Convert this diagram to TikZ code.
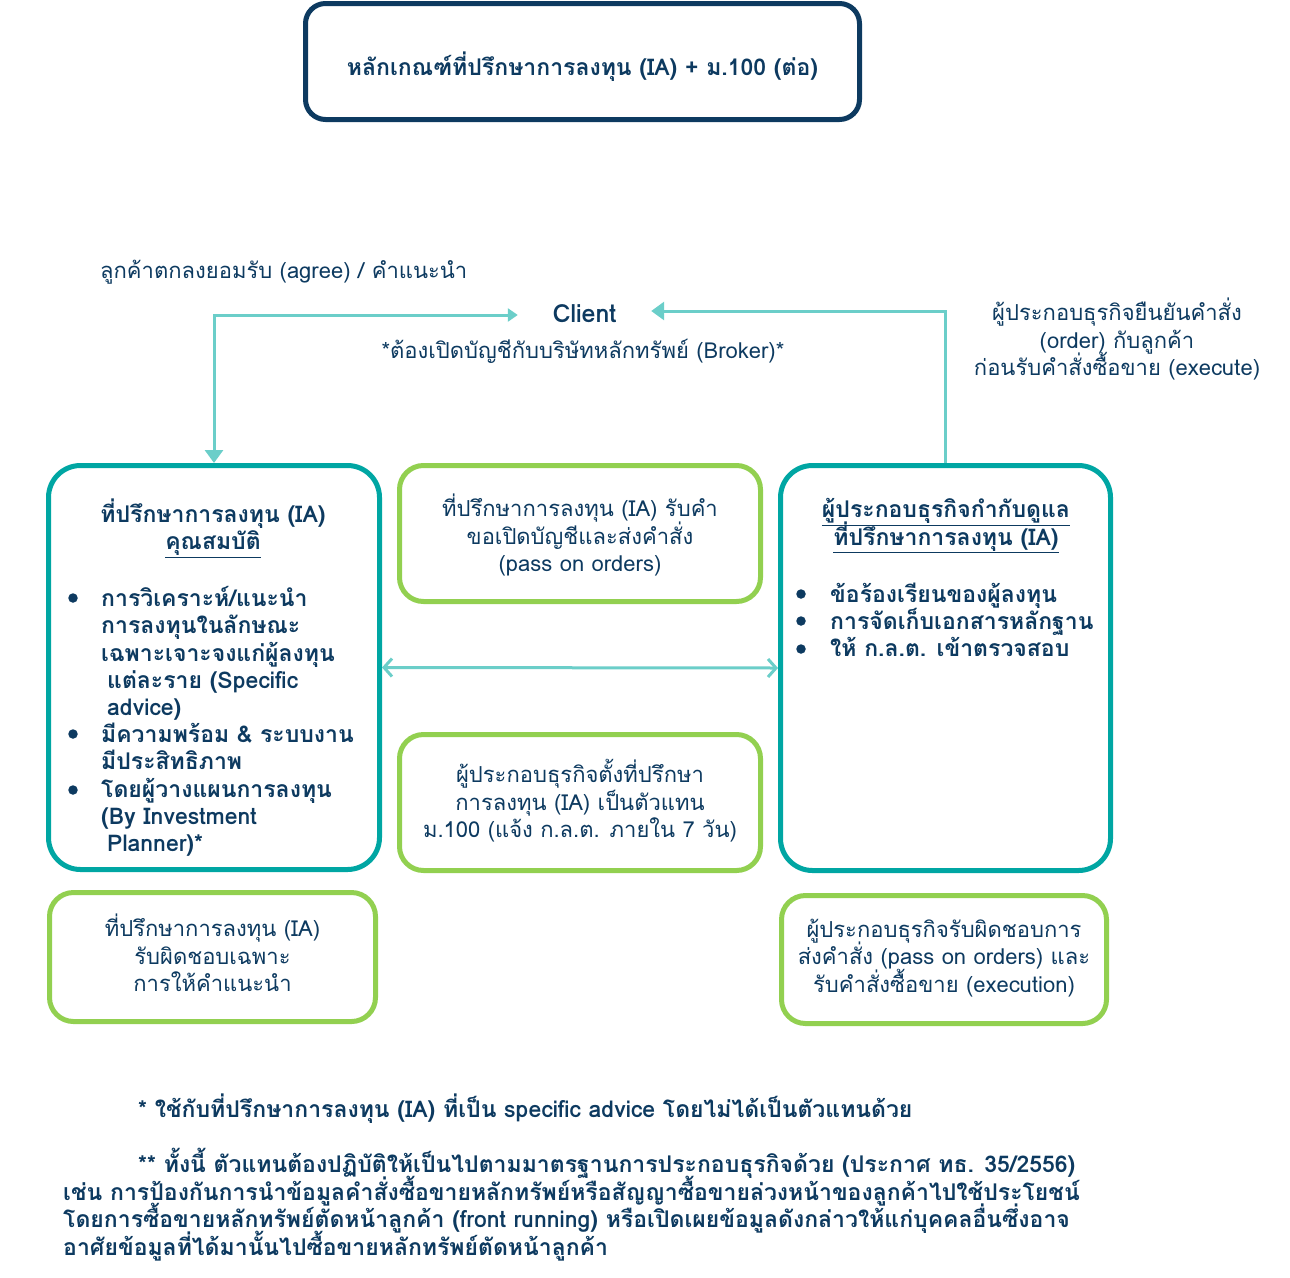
\documentclass[tikz,border=0pt]{standalone}
\usepackage{fontspec}
\setmainfont[Script=Thai]{Loma}
\usetikzlibrary{arrows.meta}
\definecolor{navy}{HTML}{0D3A60}
\definecolor{boxteal}{HTML}{00A6A3}
\definecolor{boxgreen}{HTML}{92D050}
\definecolor{arrteal}{HTML}{6BCEC9}
\lineskiplimit=-60pt
\begin{document}
\begin{tikzpicture}[x=1pt,y=-1pt,
  every node/.style={text=navy, font=\fontsize{22}{27.5}\selectfont, inner sep=0pt},
  boldtxt/.style={font=\fontsize{23}{27.25}\selectfont\bfseries},
  txt/.style={align=center, execute at begin node={\strut}, execute at end node={\strut}},
  txtl/.style={align=left, execute at begin node={\strut}, execute at end node={\strut}},
  topbox/.style={draw=navy, line width=5pt, rounded corners=20pt, txt},
  tealbox/.style={draw=boxteal, line width=5pt, rounded corners=32pt},
  greenbox/.style={draw=boxgreen, line width=5pt, rounded corners=24pt, txt},
  dot/.style={circle, fill=navy, minimum size=9.5pt},
  conn/.style={draw=arrteal, line width=3pt},
  tri/.style={-{Triangle[length=13pt,width=18pt]}},
  bitri/.style={{Triangle[length=10pt,width=13pt]}-{Triangle[length=13pt,width=18pt]}},
  barb/.style={{Straight Barb[length=8pt,width=18pt,line width=3pt]}-{Straight Barb[length=8pt,width=18pt,line width=3pt]}}
]
\useasboundingbox (0,0) rectangle (1290,1277);

% title
\node[topbox, boldtxt, minimum width=554pt, minimum height=116pt] (title) at (582.5,61.5)
  {\rule{0pt}{37pt}หลักเกณฑ์ที่ปรึกษาการลงทุน (IA) + ม.100 (ต่อ)};

% labels around client
\node[txt, anchor=west] (agree) at (100,273) {ลูกค้าตกลงยอมรับ (agree) / คำแนะนำ};
\node[minimum width=133pt, minimum height=30pt, font=\fontsize{25}{30}\selectfont\bfseries] (client) at (584.5,314) {Client};
\node[txt] (broker) at (583,353) {*ต้องเปิดบัญชีกับบริษัทหลักทรัพย์ (Broker)*};
\node[txt] (confirm) at (1117,341) {ผู้ประกอบธุรกิจยืนยันคำสั่ง\\(order) กับลูกค้า\\ก่อนรับคำสั่งซื้อขาย (execute)};

% main boxes
\node[tealbox, minimum width=331pt, minimum height=404pt] (ia) at (214,667.5) {};
\node[tealbox, minimum width=330pt, minimum height=405pt] (reg) at (945.5,668) {};
\node[greenbox, minimum width=361pt, minimum height=136pt] (pass) at (580,533.5)
  {\rule{0pt}{30pt}ที่ปรึกษาการลงทุน (IA) รับคำ\\ขอเปิดบัญชีและส่งคำสั่ง\\(pass on orders)};
\node[greenbox, minimum width=361pt, minimum height=136pt] (agent) at (580,802.5)
  {\rule{0pt}{24pt}ผู้ประกอบธุรกิจตั้งที่ปรึกษา\\การลงทุน (IA) เป็นตัวแทน\\ม.100 (แจ้ง ก.ล.ต. ภายใน 7 วัน)};
\node[greenbox, minimum width=326pt, minimum height=129pt] (iaresp) at (212.5,957)
  {ที่ปรึกษาการลงทุน (IA)\\รับผิดชอบเฉพาะ\\การให้คำแนะนำ};
\node[greenbox, minimum width=325pt, minimum height=128pt] (regresp) at (944,959.5)
  {ผู้ประกอบธุรกิจรับผิดชอบการ\\ส่งคำสั่ง (pass on orders) และ\\รับคำสั่งซื้อขาย (execution)};

% left box content
\node[txt, boldtxt] (iahead) at (213,528.5)
  {ที่ปรึกษาการลงทุน (IA)\\\underline{คุณสมบัติ}};
\node[dot] (d1) at (73,598) {};
\node[dot] (d2) at (73,734) {};
\node[dot] (d3) at (73,790) {};
\node[txtl, boldtxt, anchor=west] (q1) at (101,655)
  {การวิเคราะห์/แนะนำ\\การลงทุนในลักษณะ\\เฉพาะเจาะจงแก่ผู้ลงทุน\\\hspace*{6pt}แต่ละราย (Specific\\\hspace*{6pt}advice)};
\node[txtl, boldtxt, anchor=west] (q2) at (101,750)
  {มีความพร้อม \& ระบบงาน\\มีประสิทธิภาพ};
\node[txtl, boldtxt, anchor=west] (q3) at (101,819)
  {โดยผู้วางแผนการลงทุน\\(By Investment\\\hspace*{6pt}Planner)*};

% right box content
\node[txt, boldtxt] (reghead) at (946,526)
  {\underline{ผู้ประกอบธุรกิจกำกับดูแล}\\\underline{ที่ปรึกษาการลงทุน (IA)}};
\node[dot] (r1) at (801,594) {};
\node[dot] (r2) at (801,621) {};
\node[dot] (r3) at (801,649) {};
\node[txtl, boldtxt, anchor=west] (rl) at (830,624)
  {ข้อร้องเรียนของผู้ลงทุน\\การจัดเก็บเอกสารหลักฐาน\\ให้ ก.ล.ต. เข้าตรวจสอบ};

% connectors
\draw[conn, bitri] ([yshift=-1pt]client.west) -| (ia.north);
\draw[conn, tri] (reg.north) |- ([yshift=3pt]client.east);
\draw[conn, barb] (ia.east) -- (reg.west);

% footnotes
\node[txtl, anchor=west, font=\fontsize{23}{27.5}\selectfont\bfseries] (fn1) at (138,1109.5)
  {* ใช้กับที่ปรึกษาการลงทุน (IA) ที่เป็น specific advice โดยไม่ได้เป็นตัวแทนด้วย};
\node[txtl, anchor=west, font=\fontsize{23}{27.6}\selectfont\bfseries] (fn2) at (63,1206)
  {\hspace*{75pt}** ทั้งนี้ ตัวแทนต้องปฏิบัติให้เป็นไปตามมาตรฐานการประกอบธุรกิจด้วย (ประกาศ ทธ. 35/2556)\\
   เช่น การป้องกันการนำข้อมูลคำสั่งซื้อขายหลักทรัพย์หรือสัญญาซื้อขายล่วงหน้าของลูกค้าไปใช้ประโยชน์\\
   โดยการซื้อขายหลักทรัพย์ตัดหน้าลูกค้า (front running) หรือเปิดเผยข้อมูลดังกล่าวให้แก่บุคคลอื่นซึ่งอาจ\\
   อาศัยข้อมูลที่ได้มานั้นไปซื้อขายหลักทรัพย์ตัดหน้าลูกค้า};
\end{tikzpicture}
\end{document}
